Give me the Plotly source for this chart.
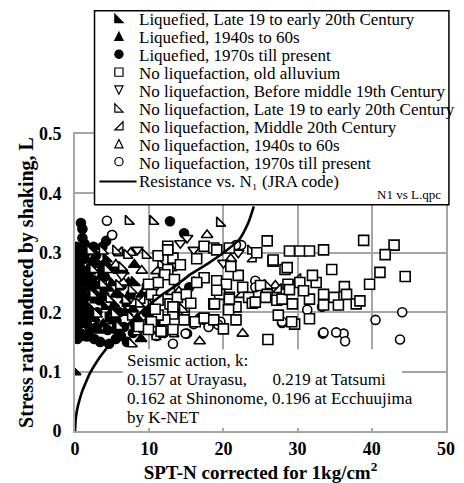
import plotly.graph_objects as go

# ---------------- data ----------------
liq_late19_N = [0.0, 0.3, 0.3, 0.5, 1.0, 0.8, 0.3, 1.5, 2.0, 2.5, 3.0, 1.8, 3.5, 4.0, 4.5, 2.5, 5.0, 6.0, 3.2, 5.5, 7.0, 1.2, 2.7, 4.2, 0.6, 6.5, 8.0,
                1.0, 2.2, 3.8, 5.2, 0.4, 1.6, 3.0, 4.8, 6.8]
liq_late19_L = [0.100, 0.300, 0.280, 0.260, 0.240, 0.220, 0.200, 0.290, 0.270, 0.250, 0.230, 0.210, 0.270, 0.210, 0.190, 0.190, 0.250, 0.230, 0.170, 0.170, 0.200, 0.310, 0.300, 0.290, 0.180, 0.270, 0.250,
                0.185, 0.225, 0.235, 0.215, 0.245, 0.265, 0.285, 0.275, 0.215]

liq_1940_N = [1.2, 2.2, 3.5, 4.5, 5.9, 5.5, 6.8, 4.9, 8.4, 9.9, 8.9, 2.8, 1.5, 3.8, 7.2, 6.2, 0.7, 1.9, 10.5, 9.0,
              2.6, 4.0, 5.2, 7.8, 3.2, 1.0, 6.0, 8.0]
liq_1940_L = [0.300, 0.280, 0.260, 0.240, 0.270, 0.230, 0.220, 0.200, 0.190, 0.170, 0.155, 0.220, 0.200, 0.180, 0.250, 0.300, 0.270, 0.170, 0.210, 0.230,
              0.190, 0.225, 0.185, 0.205, 0.245, 0.215, 0.165, 0.280]

liq_1970_N = [0.8, 1.0, 1.0, 1.3, 0.2, 0.5, 0.2, 0.6, 0.3, 0.5, 0.2, 0.7, 0.3, 0.5, 0.2, 0.6, 0.3, 0.5, 0.2, 0.7,
              1.0, 1.3, 1.5, 1.2, 1.6, 1.1, 2.0, 2.6, 3.4, 4.6, 5.5, 6.2, 7.0, 1.6, 3.7, 5.0, 4.2, 2.5, 12.8, 14.7,
              15.4, 16.8, 15.1, 8.0, 9.6, 7.5, 3.0, 2.2, 4.0, 6.0, 11.5, 10.5, 13.5, 12.0, 0.9, 1.8, 2.9, 0.4, 1.4, 2.4,
              0.9, 1.1, 0.4, 0.8, 1.4, 2.0, 2.3, 3.3, 4.4, 5.6, 6.6, 7.8, 1.7, 2.8, 3.9, 5.1, 6.3, 0.2, 0.3, 1.9]
liq_1970_L = [0.350, 0.340, 0.325, 0.315, 0.310, 0.300, 0.290, 0.280, 0.270, 0.260, 0.250, 0.240, 0.230, 0.220, 0.210, 0.200, 0.190, 0.180, 0.170, 0.165,
              0.160, 0.290, 0.250, 0.210, 0.180, 0.270, 0.160, 0.155, 0.150, 0.147, 0.155, 0.160, 0.150, 0.159, 0.310, 0.330, 0.320, 0.310, 0.353, 0.333,
              0.242, 0.190, 0.164, 0.180, 0.200, 0.230, 0.200, 0.240, 0.260, 0.200, 0.180, 0.190, 0.200, 0.165, 0.230, 0.205, 0.175, 0.235, 0.195, 0.285,
              0.300, 0.260, 0.285, 0.195, 0.225, 0.270, 0.255, 0.220, 0.170, 0.185, 0.175, 0.165, 0.305, 0.295, 0.280, 0.205, 0.245, 0.175, 0.155, 0.250]

old_alluv_N = [11.2, 12.5, 13.2, 12.5, 12.1, 13.4, 11.2, 9.9, 10.3, 11.2, 12.8, 13.2, 12.1, 11.2, 10.3, 8.6, 9.9, 11.6, 13.2, 14.7,
               16.2, 17.4, 18.7, 20.0, 17.4, 18.7, 20.8, 12.5, 16.4, 19.1, 19.1, 20.4, 19.5, 18.7, 20.8, 21.7, 22.6, 23.4, 17.4, 16.4,
               19.1, 20.8, 18.8, 20.7, 21.7, 13.8, 13.2, 25.9, 28.9, 30.3, 31.6, 33.5, 38.9, 43.0, 41.8, 26.7, 28.3, 34.6, 32.5, 36.3,
               41.1, 39.7, 44.5, 25.0, 25.9, 28.7, 30.3, 23.9, 27.2, 29.3, 31.6, 33.5, 34.9, 36.6, 37.9, 38.4, 27.4, 29.6, 31.6, 33.5,
               26.0, 24.3, 25.7, 27.9, 28.9, 29.2, 26.7, 28.6, 22.0, 24.5, 32.0, 35.5, 30.8, 21.0, 15.0, 14.2, 10.8, 15.6]
old_alluv_L = [0.295, 0.311, 0.291, 0.272, 0.263, 0.255, 0.250, 0.247, 0.230, 0.220, 0.214, 0.197, 0.187, 0.195, 0.184, 0.176, 0.171, 0.168, 0.171, 0.187,
               0.184, 0.190, 0.187, 0.172, 0.311, 0.308, 0.308, 0.305, 0.290, 0.305, 0.253, 0.247, 0.230, 0.214, 0.225, 0.209, 0.242, 0.225, 0.258, 0.250,
               0.237, 0.222, 0.214, 0.204, 0.187, 0.225, 0.209, 0.320, 0.303, 0.303, 0.303, 0.305, 0.321, 0.313, 0.297, 0.286, 0.272, 0.272, 0.250, 0.243,
               0.267, 0.247, 0.260, 0.245, 0.230, 0.247, 0.250, 0.215, 0.220, 0.214, 0.222, 0.230, 0.225, 0.230, 0.214, 0.219, 0.195, 0.180, 0.189, 0.212,
               0.154, 0.217, 0.225, 0.222, 0.238, 0.184, 0.288, 0.275, 0.262, 0.300, 0.262, 0.212, 0.236, 0.277, 0.230, 0.280, 0.205, 0.215]

no_pre19_N = [15.1, 16.0, 20.0, 8.4, 6.3, 10.7, 22.0, 14.2]
no_pre19_L = [0.325, 0.305, 0.283, 0.305, 0.262, 0.240, 0.300, 0.316]

no_late19_N = [7.2, 10.5, 19.5, 23.7, 11.6, 12.9, 13.2, 16.4, 25.9, 2.0, 3.7, 5.5, 7.0, 9.5, 2.4, 4.3, 6.3, 3.7, 5.9, 7.6,
               9.5, 2.4, 4.6, 6.8, 8.6, 10.3, 2.9, 5.3, 7.5, 9.9, 5.9, 8.2, 10.8, 7.6, 12.5, 14.5]
no_late19_L = [0.353, 0.353, 0.350, 0.303, 0.280, 0.275, 0.164, 0.250, 0.245, 0.303, 0.303, 0.303, 0.296, 0.296, 0.272, 0.272, 0.275, 0.247, 0.245, 0.237,
               0.238, 0.230, 0.222, 0.220, 0.214, 0.212, 0.197, 0.197, 0.192, 0.187, 0.176, 0.167, 0.159, 0.147, 0.267, 0.205]

no_mid20_N = [22.4, 24.0, 27.4, 13.0, 11.0, 9.0, 6.0, 15.0, 30.0, 3.8]
no_mid20_L = [0.230, 0.290, 0.238, 0.235, 0.270, 0.220, 0.300, 0.200, 0.255, 0.245]

no_1940_N = [17.8, 16.8, 22.6, 6.5, 8.0, 12.0, 14.0, 9.0, 21.0, 5.5, 27.0, 7.5]
no_1940_L = [0.330, 0.151, 0.164, 0.250, 0.215, 0.265, 0.235, 0.270, 0.290, 0.280, 0.245, 0.300]

no_1970_N = [4.3, 5.0, 22.4, 24.3, 24.3, 31.3, 27.9, 33.3, 40.5, 44.1, 33.4, 36.2, 36.4, 43.8, 19.6, 19.3, 17.4, 14.9, 13.2, 27.9,
             21.7, 33.5, 35.2, 8.5, 11.0, 9.5, 16.0, 18.0]
no_1970_L = [0.354, 0.330, 0.313, 0.253, 0.242, 0.204, 0.182, 0.209, 0.187, 0.200, 0.164, 0.164, 0.151, 0.154, 0.184, 0.179, 0.187, 0.164, 0.147, 0.184,
             0.313, 0.166, 0.166, 0.170, 0.160, 0.180, 0.180, 0.175]

res_N = [0, 0.1, 0.3, 0.6, 1.0, 1.5, 2.0, 3.0, 4.0, 5.0, 6.0, 8.0, 10.0, 12.0, 13.4, 15.6, 17.8, 20.0, 22.1, 23.4, 24.1]
res_L = [0, 0.020, 0.037, 0.052, 0.068, 0.083, 0.097, 0.118, 0.135, 0.150, 0.165, 0.190, 0.212, 0.232, 0.243, 0.264, 0.281, 0.300, 0.322, 0.352, 0.378]

legend_labels = [
    "Liquefied, Late 19 to early 20th Century",
    "Liquefied, 1940s to 60s",
    "Liquefied, 1970s till present",
    "No liquefaction, old alluvium",
    "No liquefaction, Before middle 19th Century",
    "No liquefaction, Late 19 to early 20th Century",
    "No liquefaction, Middle 20th Century",
    "No liquefaction, 1940s to 60s",
    "No liquefaction, 1970s till present",
    "Resistance vs. N\u2081 (JRA code)",
]
seismic_lines = [
    "Seismic action, k:",
    "0.157 at Urayasu,\u00a0\u00a0\u00a0\u00a0\u00a0 0.219 at Tatsumi",
    "0.162 at Shinonome, 0.196 at Ecchuujima",
    "by K-NET",
]
x_ticks = [0, 10, 20, 30, 40, 50]
y_ticks = [0, 0.1, 0.2, 0.3, 0.4, 0.5]
y_ticktext = ["0", "0.1", "0.2", "0.3", "0.4", "0.5"]

# ---------------- layout helpers ----------------
# the page body has an 8px margin, so the figure is 8px smaller and all
# pixel positions below are given in page coordinates of the reference.
PAGE_OFF = 8
W, H = 464 - PAGE_OFF, 483 - PAGE_OFF
L_PX, R_PX, T_PX, B_PX = 75, 455, 134, 436   # plot area in page pixels
SERIF = "Liberation Serif"


def px(x):
    return (x - L_PX) / (R_PX - L_PX)


def py(y):
    return (B_PX - y) / (B_PX - T_PX)


fig = go.Figure()

OL = dict(color="black", width=1.6)
series = [
    (liq_1970_N, liq_1970_L, dict(symbol="circle", size=9, color="black", line=OL)),
    (liq_1940_N, liq_1940_L, dict(symbol="triangle-up", size=10, color="black", line=OL)),
    (liq_late19_N, liq_late19_L, dict(symbol="triangle-sw", size=10, color="black", line=OL)),
    (no_1970_N, no_1970_L, dict(symbol="circle", size=9, color="white", line=OL)),
    (no_1940_N, no_1940_L, dict(symbol="triangle-up", size=10, color="white", line=OL)),
    (no_mid20_N, no_mid20_L, dict(symbol="triangle-se", size=10, color="white", line=OL)),
    (no_pre19_N, no_pre19_L, dict(symbol="triangle-down", size=10, color="white", line=OL)),
    (no_late19_N, no_late19_L, dict(symbol="triangle-sw", size=10, color="white", line=OL)),
    (old_alluv_N, old_alluv_L, dict(symbol="square", size=10, color="white", line=OL)),
]
for xs, ys, mk in series:
    fig.add_trace(go.Scatter(x=xs, y=ys, mode="markers", marker=mk, showlegend=False, hoverinfo="skip"))

fig.add_trace(go.Scatter(x=res_N, y=res_L, mode="lines", line=dict(color="black", width=2.6, shape="spline", smoothing=0.6),
                         showlegend=False, hoverinfo="skip"))

shapes = []
annotations = []

# legend box
shapes.append(dict(type="rect", xref="paper", yref="paper", x0=px(95), x1=px(458), y0=py(206), y1=py(PAGE_OFF + 0.8),
                   fillcolor="white", line=dict(color="black", width=1.5), layer="above"))

# legend keys
cx, h = 120, 4.2
row0, dy = 16.5, 18.2


def path(points, fill):
    d = "M" + " L".join(f"{px(a):.5f},{py(b):.5f}" for a, b in points) + " Z"
    return dict(type="path", xref="paper", yref="paper", path=d, fillcolor=fill,
                line=dict(color="black", width=1.2), layer="above")


for i in range(len(legend_labels)):
    cy = row0 + dy * i + (1.0 if i == 9 else 0.0)
    if i == 0:
        shapes.append(path([(cx - h, cy - h), (cx - h, cy + h), (cx + h, cy + h)], "black"))
    elif i == 1:
        shapes.append(path([(cx, cy - h), (cx + h, cy + h), (cx - h, cy + h)], "black"))
    elif i == 2:
        shapes.append(dict(type="circle", xref="paper", yref="paper", x0=px(cx - h), x1=px(cx + h),
                           y0=py(cy + h), y1=py(cy - h), fillcolor="black",
                           line=dict(color="black", width=1.2), layer="above"))
    elif i == 3:
        shapes.append(dict(type="rect", xref="paper", yref="paper", x0=px(cx - h), x1=px(cx + h),
                           y0=py(cy + h), y1=py(cy - h), fillcolor="white",
                           line=dict(color="black", width=1.2), layer="above"))
    elif i == 4:
        shapes.append(path([(cx - h, cy - h), (cx + h, cy - h), (cx, cy + h)], "white"))
    elif i == 5:
        shapes.append(path([(cx - h, cy - h), (cx - h, cy + h), (cx + h, cy + h)], "white"))
    elif i == 6:
        shapes.append(path([(cx + h, cy - h), (cx + h, cy + h), (cx - h, cy + h)], "white"))
    elif i == 7:
        shapes.append(path([(cx, cy - h), (cx + h, cy + h), (cx - h, cy + h)], "white"))
    elif i == 8:
        shapes.append(dict(type="circle", xref="paper", yref="paper", x0=px(cx - h), x1=px(cx + h),
                           y0=py(cy + h), y1=py(cy - h), fillcolor="white",
                           line=dict(color="black", width=1.2), layer="above"))
    else:
        shapes.append(dict(type="line", xref="paper", yref="paper", x0=px(100), x1=px(138),
                           y0=py(cy + 1), y1=py(cy + 1), line=dict(color="black", width=2), layer="above"))
    annotations.append(dict(text=legend_labels[i], xref="paper", yref="paper", x=px(139), y=py(cy + 1.5),
                            xanchor="left", yanchor="middle", showarrow=False,
                            font=dict(family=SERIF, size=17, color="black")))

annotations.append(dict(text="N1 vs L.qpc", xref="paper", yref="paper", x=px(452), y=py(196),
                        xanchor="right", yanchor="middle", showarrow=False,
                        font=dict(family=SERIF, size=13, color="black")))

# seismic text box
shapes.append(dict(type="rect", xref="paper", yref="paper", x0=px(124), x1=px(410), y0=py(433), y1=py(353),
                   fillcolor="white", line=dict(width=0), layer="above"))
for j, t in enumerate(seismic_lines):
    annotations.append(dict(text=t, xref="paper", yref="paper", x=px(126), y=py(364 + 19.5 * j),
                            xanchor="left", yanchor="middle", showarrow=False,
                            font=dict(family=SERIF, size=17, color="black")))

axis_common = dict(showline=True, linecolor="#a6a6a6", linewidth=2, mirror=True,
                   showgrid=True, gridcolor="#a6a6a6", gridwidth=2, zeroline=False,
                   ticks="", tickfont=dict(family=SERIF, size=18, color="black", weight="bold"))

fig.update_layout(
    width=W, height=H,
    margin=dict(l=L_PX - PAGE_OFF, r=W - (R_PX - PAGE_OFF), t=T_PX - PAGE_OFF, b=H - (B_PX - PAGE_OFF)),
    paper_bgcolor="white", plot_bgcolor="white",
    showlegend=False,
    shapes=shapes, annotations=annotations,
    xaxis=dict(range=[0, 50], tickvals=x_ticks, ticklabelstandoff=0,
               title=dict(text="SPT-N corrected for 1kg/cm<sup>2</sup>", standoff=2,
                          font=dict(family=SERIF, size=19, color="black", weight="bold")),
               **axis_common),
    yaxis=dict(range=[0, 0.5], tickvals=y_ticks, ticktext=y_ticktext, ticklabelstandoff=8,
               title=dict(text="Stress ratio induced by shaking, L", standoff=0,
                          font=dict(family=SERIF, size=20, color="black", weight="bold")),
               **axis_common),
)

fig.write_html("out.html")
